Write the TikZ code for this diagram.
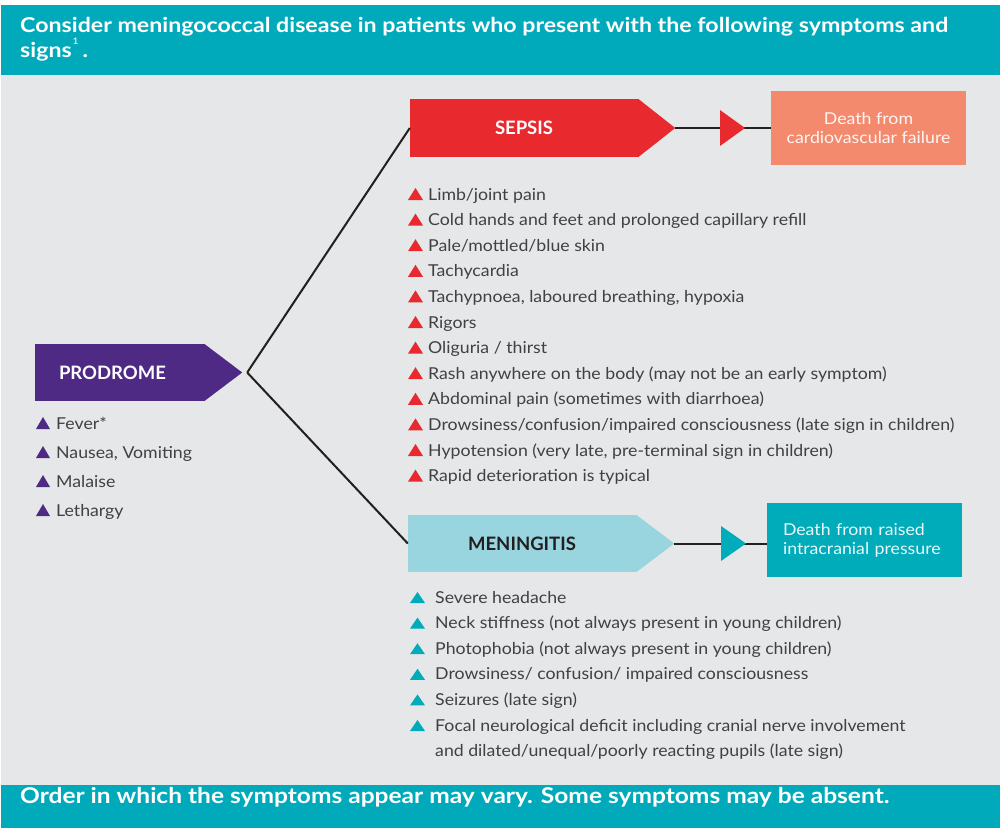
\documentclass[tikz,border=0pt]{standalone}
\usepackage{fontspec}
\setmainfont{Lato}[FakeStretch=1.08]
\newfontfamily\bannerfont{Lato}[FakeStretch=1.13]
\newfontfamily\stagefont{Lato}
\usetikzlibrary{shapes,arrows.meta,positioning,calc}
\definecolor{headteal}{HTML}{00AABB}
\definecolor{panelgray}{HTML}{E6E7E8}
\definecolor{sepred}{HTML}{E8292E}
\definecolor{prodpurple}{HTML}{4E2A84}
\definecolor{meninblue}{HTML}{98D5DF}
\definecolor{deathsalmon}{HTML}{F38A6E}
\definecolor{deathteal}{HTML}{00ABBA}
\definecolor{bodygray}{HTML}{414042}
\definecolor{linkline}{HTML}{231F20}
\tikzset{
  stage/.style={rectangle, inner sep=0pt, minimum height=57pt, font=\stagefont\fontsize{18.5}{20}\selectfont\bfseries},
  death/.style={rectangle, inner sep=0pt, minimum width=195pt, minimum height=74pt, font=\fontsize{16.4}{19}\selectfont},
  item/.style={anchor=base west, inner sep=0pt, text=bodygray, font=\fontsize{16.4}{19}\selectfont},
  banner/.style={anchor=base west, inner sep=0pt, text=white, font=\bannerfont\fontsize{20.5}{24}\selectfont\bfseries},
  link/.style={draw=linkline, line width=2pt}
}
\begin{document}
\begin{tikzpicture}[x=1pt, y=-1pt]
   \useasboundingbox (0,0) rectangle (1000,828);
   \fill[white] (0,0) rectangle (1000,828);
   \fill[panelgray] (1,75) rectangle (1000,785);
   \fill[headteal] (1,5) rectangle (1000,75);
   \fill[headteal] (1,785) rectangle (1000,828);

   \node[banner] (head1) at (20,32) {Consider meningococcal disease in patients who present with the following symptoms and};
   \node[banner] (head2) at (20,57) {signs\hspace{1pt}\raisebox{13pt}{\fontsize{9}{9}\selectfont\mdseries 1}\hspace{4pt}.};
   \node[banner, font=\bannerfont\fontsize{21.7}{24}\selectfont\bfseries] (foot) at (20,803) {Order in which the symptoms appear may vary. Some symptoms may be absent.};

   \node[stage, fill=prodpurple, text=white, minimum width=169pt, text width=121pt, align=left] (prodrome) at (119.5,372.5) {PRODROME};
   \node[stage, fill=sepred, text=white, minimum width=228pt, minimum height=58pt] (sepsis) at (524,128) {SEPSIS};
   \node[stage, fill=meninblue, text=linkline, minimum width=228pt] (meningitis) at (522,543.5) {MENINGITIS};
   \fill[prodpurple] (prodrome.north east) -- ($(prodrome.east)+(38,0)$) coordinate (prodtip) -- (prodrome.south east) -- cycle;
   \fill[sepred] (sepsis.north east) -- ($(sepsis.east)+(37,0)$) coordinate (septip) -- (sepsis.south east) -- cycle;
   \fill[meninblue] (meningitis.north east) -- ($(meningitis.east)+(38,0)$) coordinate (mentip) -- (meningitis.south east) -- cycle;

   \node[death, fill=deathsalmon, text=white!92!deathsalmon, align=center] (deathsep) at (868.5,128) {Death from\\cardiovascular failure};
   \node[death, fill=deathteal, text=white!92!deathteal, text width=163pt, align=left] (deathmen) at (864.5,540) {Death from raised\\intracranial pressure};

   \coordinate[right=5pt of prodtip] (fork);
   \draw[link] (fork) -- (sepsis.west);
   \draw[link] (fork) -- (meningitis.west);
   \draw[link] (septip) -- (septip -| deathsep.west);
   \draw[link] (mentip) -- (mentip -| deathmen.west);
   \coordinate (septri) at (720,128);
   \coordinate (mentri) at (721,543.5);
   \fill[sepred] ($(septri)+(0,-18)$) -- ($(septri)+(25,0)$) -- ($(septri)+(0,18)$) -- cycle;
   \fill[deathteal] ($(mentri)+(0,-17.5)$) -- ($(mentri)+(25,0)$) -- ($(mentri)+(0,17.5)$) -- cycle;

   \foreach \txt [count=\i from 0] in {Fever*, {Nausea, Vomiting}, Malaise, Lethargy} {
      \node[item] (prod\i) at (56,{429+29*\i}) {\txt};
      \fill[prodpurple] (36,{429+29*\i}) -- ++(14,0) -- ++(-7,-12) -- cycle;
   }
   \foreach \txt [count=\i from 0] in {Limb/joint pain, Cold hands and feet and prolonged capillary refill,
      Pale/mottled/blue skin, Tachycardia, {Tachypnoea, laboured breathing, hypoxia}, Rigors,
      Oliguria / thirst, Rash anywhere on the body (may not be an early symptom),
      Abdominal pain (sometimes with diarrhoea),
      Drowsiness/confusion/impaired consciousness (late sign in children),
      {Hypotension (very late, pre-terminal sign in children)}, Rapid deterioration is typical} {
      \node[item] (sep\i) at (428,{200+25.6*\i}) {\txt};
      \fill[sepred] (408,{200+25.6*\i}) -- ++(15,0) -- ++(-7.5,-12) -- cycle;
   }
   \foreach \txt [count=\i from 0] in {Severe headache, Neck stiffness (not always present in young children),
      Photophobia (not always present in young children), Drowsiness/ confusion/ impaired consciousness,
      Seizures (late sign), Focal neurological deficit including cranial nerve involvement} {
      \node[item] (men\i) at (435,{603+25.6*\i}) {\txt};
      \fill[deathteal] (410,{603+25.6*\i}) -- ++(15,0) -- ++(-7.5,-11) -- cycle;
   }
   \node[item] (men6) at (435,756) {and dilated/unequal/poorly reacting pupils (late sign)};
\end{tikzpicture}
\end{document}
